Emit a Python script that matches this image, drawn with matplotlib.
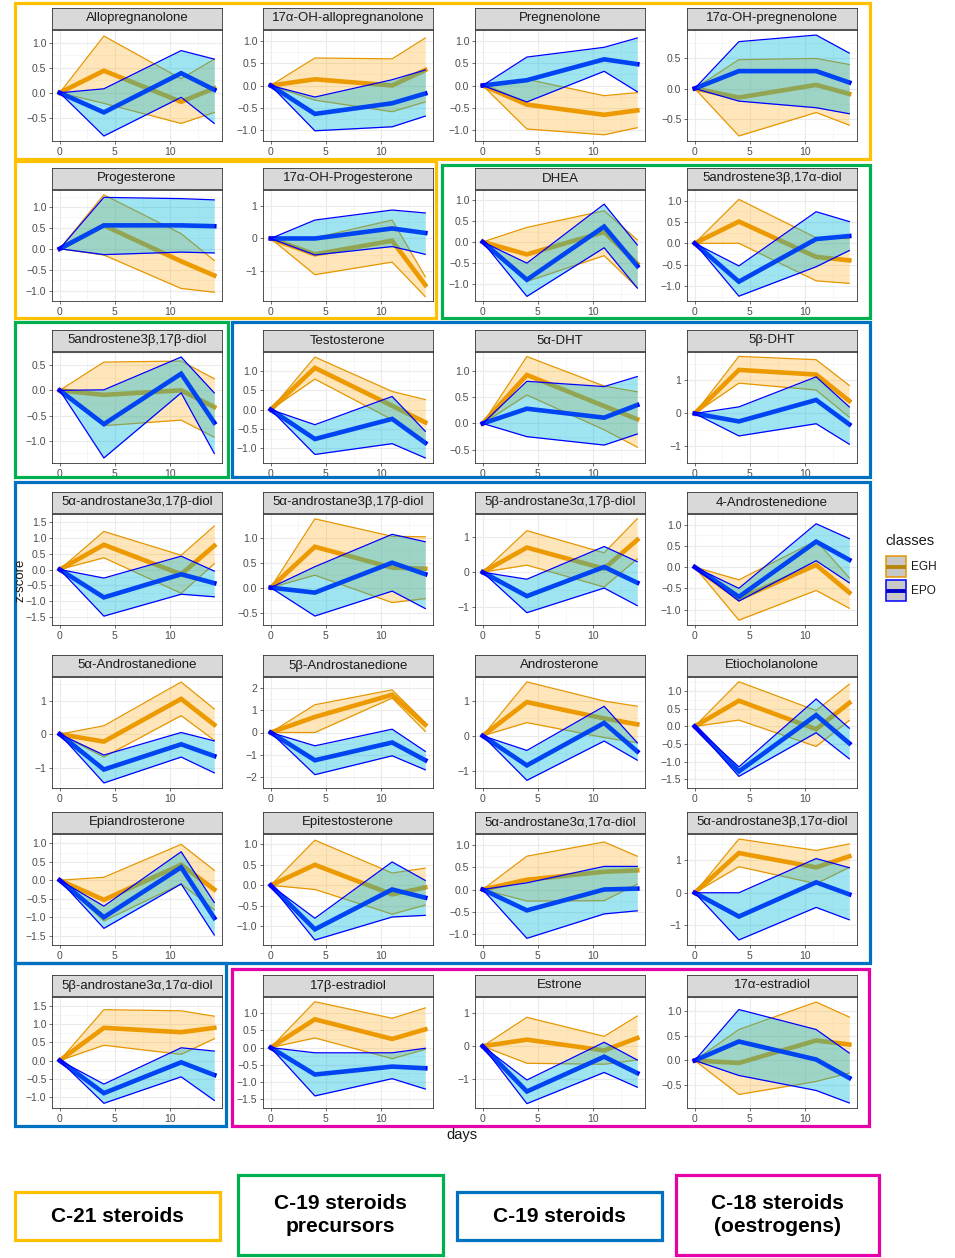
import numpy as np
import matplotlib.pyplot as plt
from matplotlib.patches import Rectangle
from matplotlib.lines import Line2D

plt.rcParams['font.family'] = ['Liberation Sans', 'DejaVu Sans']

W, H = 955, 1258

# =====================================================
# DATA  (z-score at days 4, 11, 14; day 0 is always 0)
# =====================================================
days = [0, 4, 11, 14]

steroids = [
    "Allopregnanolone", "17\u03b1-OH-allopregnanolone", "Pregnenolone", "17\u03b1-OH-pregnenolone",
    "Progesterone", "17\u03b1-OH-Progesterone", "DHEA", "5androstene3\u03b2,17\u03b1-diol",
    "5androstene3\u03b2,17\u03b2-diol", "Testosterone", "5\u03b1-DHT", "5\u03b2-DHT",
    "5\u03b1-androstane3\u03b1,17\u03b2-diol", "5\u03b1-androstane3\u03b2,17\u03b2-diol",
    "5\u03b2-androstane3\u03b1,17\u03b2-diol", "4-Androstenedione",
    "5\u03b1-Androstanedione", "5\u03b2-Androstanedione", "Androsterone", "Etiocholanolone",
    "Epiandrosterone", "Epitestosterone", "5\u03b1-androstane3\u03b1,17\u03b1-diol",
    "5\u03b1-androstane3\u03b2,17\u03b1-diol",
    "5\u03b2-androstane3\u03b1,17\u03b1-diol", "17\u03b2-estradiol", "Estrone", "17\u03b1-estradiol",
]

egh_mean = [
    [0.44, -0.18, 0.09], [0.14, 0.00, 0.35], [-0.43, -0.66, -0.56], [-0.15, 0.06, -0.09],
    [0.56, -0.30, -0.64], [-0.49, -0.07, -1.44], [-0.30, 0.24, -0.52], [0.51, -0.32, -0.40],
    [-0.09, 0.00, -0.33], [1.08, 0.10, -0.33], [0.92, 0.33, 0.08], [1.32, 1.18, 0.38],
    [0.78, -0.15, 0.75], [0.82, 0.40, 0.38], [0.70, 0.10, 0.92], [-0.75, 0.05, -0.60],
    [-0.22, 1.05, 0.28], [0.70, 1.70, 0.35], [0.97, 0.50, 0.33], [0.73, -0.08, 0.67],
    [-0.53, 0.42, -0.25], [0.50, -0.22, -0.05], [0.22, 0.40, 0.43], [1.22, 0.78, 1.12],
    [0.90, 0.78, 0.90], [0.82, 0.25, 0.53], [0.20, -0.13, 0.25], [-0.05, 0.40, 0.32],
]
egh_low = [
    [-0.21, -0.61, -0.39], [-0.33, -0.59, -0.37], [-0.98, -1.11, -0.95], [-0.79, -0.40, -0.61],
    [-0.15, -0.95, -1.04], [-1.12, -0.73, -1.80], [-0.95, -0.33, -1.10], [0.00, -0.88, -0.94],
    [-0.70, -0.59, -0.93], [0.79, -0.26, -0.90], [0.54, -0.12, -0.45], [0.92, 0.71, -0.11],
    [0.37, -0.75, 0.18], [0.25, -0.30, -0.22], [0.20, -0.42, 0.38], [-1.25, -0.55, -0.97],
    [-0.68, 0.55, -0.18], [0.00, 1.55, 0.05], [0.38, -0.05, -0.20], [0.18, -0.57, 0.17],
    [-1.10, -0.10, -0.80], [-0.10, -0.70, -0.48], [-0.26, -0.25, 0.12], [0.80, 0.28, 0.78],
    [0.42, 0.17, 0.60], [0.28, -0.32, -0.05], [-0.52, -0.55, -0.42], [-0.68, -0.42, -0.25],
]
egh_high = [
    [1.13, 0.28, 0.67], [0.62, 0.60, 1.07], [0.14, -0.23, -0.16], [0.48, 0.50, 0.40],
    [1.29, 0.36, -0.28], [0.02, 0.57, -1.18], [0.35, 0.75, 0.05], [1.03, 0.13, 0.11],
    [0.56, 0.58, 0.23], [1.36, 0.47, 0.26], [1.27, 0.71, 0.60], [1.73, 1.63, 0.85],
    [1.20, 0.45, 1.37], [1.38, 1.03, 1.02], [1.18, 0.55, 1.52], [-0.30, 0.62, -0.25],
    [0.25, 1.55, 0.75], [1.25, 1.92, 0.45], [1.55, 1.00, 0.85], [1.27, 0.45, 1.20],
    [0.08, 0.97, 0.27], [1.10, 0.30, 0.42], [0.75, 1.07, 0.75], [1.65, 1.30, 1.50],
    [1.40, 1.37, 1.22], [1.33, 0.85, 1.15], [0.88, 0.30, 0.92], [0.62, 1.17, 0.87],
]
epo_mean = [
    [-0.39, 0.39, 0.06], [-0.64, -0.40, -0.18], [0.12, 0.59, 0.48], [0.29, 0.29, 0.10],
    [0.56, 0.56, 0.54], [0.00, 0.31, 0.17], [-0.91, 0.37, -0.58], [-0.90, 0.10, 0.17],
    [-0.67, 0.33, -0.64], [-0.76, -0.24, -0.86], [0.28, 0.11, 0.35], [-0.24, 0.41, -0.33],
    [-0.88, -0.15, -0.43], [-0.10, 0.50, 0.27], [-0.68, 0.15, -0.30], [-0.70, 0.60, 0.17],
    [-1.05, -0.30, -0.65], [-1.25, -0.45, -1.25], [-0.85, 0.37, -0.45], [-1.28, 0.32, -0.48],
    [-1.00, 0.35, -1.02], [-1.07, -0.10, -0.30], [-0.47, 0.00, 0.02], [-0.73, 0.32, -0.05],
    [-0.90, -0.05, -0.40], [-0.78, -0.55, -0.60], [-1.38, -0.32, -0.82], [0.38, 0.02, -0.35],
]
epo_low = [
    [-0.86, -0.09, -0.61], [-1.02, -0.93, -0.69], [-0.37, 0.32, -0.14], [-0.21, -0.32, -0.42],
    [-0.14, -0.08, -0.10], [-0.51, -0.25, -0.49], [-1.31, -0.14, -1.11], [-1.24, -0.55, -0.17],
    [-1.34, -0.05, -1.25], [-1.16, -0.88, -1.25], [-0.25, -0.41, -0.20], [-0.68, -0.31, -0.93],
    [-1.47, -0.78, -0.86], [-0.57, -0.07, -0.42], [-1.15, -0.45, -0.95], [-0.80, 0.15, -0.37],
    [-1.45, -0.68, -1.15], [-1.90, -1.05, -1.68], [-1.28, -0.15, -0.70], [-1.42, -0.18, -0.92],
    [-1.30, -0.10, -1.48], [-1.33, -0.77, -0.73], [-1.10, -0.55, -0.48], [-1.45, -0.45, -0.83],
    [-1.18, -0.45, -1.10], [-1.40, -0.90, -1.20], [-1.75, -0.80, -1.25], [-0.30, -0.60, -0.85],
]
epo_high = [
    [0.08, 0.84, 0.67], [-0.26, 0.13, 0.35], [0.64, 0.86, 1.07], [0.78, 0.89, 0.59],
    [1.23, 1.20, 1.17], [0.57, 0.88, 0.79], [-0.51, 0.91, -0.07], [-0.53, 0.74, 0.51],
    [0.01, 0.66, -0.05], [-0.39, 0.34, -0.56], [0.80, 0.70, 0.89], [0.20, 1.11, 0.20],
    [-0.27, 0.42, -0.05], [0.42, 1.07, 0.92], [-0.20, 0.73, 0.30], [-0.50, 1.02, 0.67],
    [-0.62, 0.05, -0.20], [-0.60, 0.15, -0.85], [-0.42, 0.85, -0.20], [-1.15, 0.78, -0.05],
    [-0.70, 0.77, -0.60], [-0.80, 0.57, 0.12], [0.15, 0.52, 0.52], [0.00, 1.05, 0.77],
    [-0.65, 0.35, 0.26], [-0.15, -0.15, -0.02], [-1.03, 0.12, -0.42], [1.02, 0.62, 0.15],
]

tick_step = [0.5, 0.5, 0.5, 0.5, 0.5, 1, 0.5, 0.5, 0.5, 0.5, 0.5, 1, 0.5, 0.5,
             1, 0.5, 1, 1, 1, 0.5, 0.5, 0.5, 0.5, 1, 0.5, 0.5, 1, 0.5]

classes = ["EGH", "EPO"]

# =====================================================
# STYLE / LAYOUT (pixels)
# =====================================================
egh_line = '#E69600'
egh_fill = '#FFA500'
epo_line = '#0000FF'
epo_fill = '#00B8DC'

col_px = [(52, 222), (263, 433), (475, 645), (687, 857)]
strip_top = [8, 168, 330, 492, 655, 812, 975]
narrow = ['Liberation Sans Narrow', 'Liberation Sans', 'DejaVu Sans']


def px_box(x0, y0, x1, y1):
    return [x0 / W, 1 - y1 / H, (x1 - x0) / W, (y1 - y0) / H]


def with_zero(v):
    return [0.0] + list(v)


def fmt(v, step):
    s = f"{v:.0f}" if step >= 1 else f"{v:.1f}"
    if s.startswith('-'):
        s = '\u2212' + s[1:]
    if s in ('\u22120', '\u22120.0'):
        s = s[1:]
    return s


fig = plt.figure(figsize=(W / 100, H / 100), dpi=100)

for i, name in enumerate(steroids):
    r, c = divmod(i, 4)
    x0, x1 = col_px[c]
    top = strip_top[r] + 22
    ax = fig.add_axes(px_box(x0, top, x1, top + 111))

    em, el, eh = with_zero(egh_mean[i]), with_zero(egh_low[i]), with_zero(egh_high[i])
    pm, pl, ph = with_zero(epo_mean[i]), with_zero(epo_low[i]), with_zero(epo_high[i])

    # EGH group
    ax.plot(days, em, color=egh_line, lw=3.3, solid_joinstyle='miter', zorder=2)
    ax.fill_between(days, el, eh, color=egh_fill, alpha=0.27, lw=0, zorder=2)
    ax.plot(days, el, color=egh_line, lw=0.9, zorder=2)
    ax.plot(days, eh, color=egh_line, lw=0.9, zorder=2)
    # EPO group
    ax.plot(days, pm, color=epo_line, lw=3.3, solid_joinstyle='miter', zorder=3)
    ax.fill_between(days, pl, ph, color=epo_fill, alpha=0.38, lw=0, zorder=3)
    ax.plot(days, pl, color=epo_line, lw=0.9, zorder=3)
    ax.plot(days, ph, color=epo_line, lw=0.9, zorder=3)

    lo = min(min(el), min(pl))
    hi = max(max(eh), max(ph))
    pad = (hi - lo) * 0.05
    ax.set_ylim(lo - pad, hi + pad)
    ax.set_xlim(-0.7, 14.7)

    step = tick_step[i]
    yt = np.arange(np.ceil((lo - pad) / step) * step, hi + pad + 1e-9, step)
    ax.set_yticks(yt)
    ax.set_yticklabels([fmt(v, step) for v in yt])
    ax.set_yticks(np.append(yt - step / 2, yt[-1] + step / 2), minor=True)
    ax.set_xticks([0, 5, 10])
    ax.set_xticks([2.5, 7.5, 12.5], minor=True)

    ax.grid(which='major', color='#EBEBEB', lw=0.8, zorder=0)
    ax.grid(which='minor', color='#F3F3F3', lw=0.5, zorder=0)
    ax.set_axisbelow(True)
    ax.tick_params(which='major', length=2.5, width=0.5, color='#333333',
                   labelcolor='#4D4D4D', labelsize=7.5, pad=1.5)
    ax.tick_params(which='minor', length=0)
    for sp in ax.spines.values():
        sp.set_color('#333333')
        sp.set_linewidth(0.6)

    sax = fig.add_axes(px_box(x0, strip_top[r], x1, strip_top[r] + 21))
    sax.set_facecolor('#D9D9D9')
    sax.set_xticks([])
    sax.set_yticks([])
    for sp in sax.spines.values():
        sp.set_color('#333333')
        sp.set_linewidth(0.6)
    sax.text(0.5, 0.5, name, ha='center', va='center', fontsize=9.5, color='#1A1A1A',
             family=narrow, transform=sax.transAxes)

# axis titles
fig.text(20 / W, 1 - 580 / H, "z-score", rotation=90, ha='center', va='center',
         fontsize=9.5, color='#1A1A1A')
fig.text(462 / W, 1 - 1135 / H, "days", ha='center', va='center', fontsize=10.5,
         color='#1A1A1A')

# legend
fig.text(885 / W, 1 - 541 / H, "classes", ha='left', va='center', fontsize=10.5, color='#1A1A1A')
for k, (lab, lc, dark) in enumerate(zip(classes, [egh_line, epo_line], ['#B8860B', '#0000C8'])):
    ky = 556 + k * 24
    fig.add_artist(Rectangle((886 / W, 1 - (ky + 21) / H), 20 / W, 21 / H,
                             transform=fig.transFigure, facecolor='#C8C8C8',
                             edgecolor=lc, lw=1.1))
    fig.add_artist(Line2D([888 / W, 904 / W], [1 - (ky + 10.5) / H] * 2,
                          transform=fig.transFigure, color=dark, lw=2.8))
    fig.text(911 / W, 1 - (ky + 11) / H, lab, ha='left', va='center', fontsize=8.5,
             color='#1A1A1A')

# group frames
frame_colors = {'C21': '#FFC000', 'C19p': '#00B050', 'C19': '#0070C0', 'C18': '#E600A8'}
frames = [
    ('C21', 15, 3, 870, 159), ('C21', 15, 161, 436, 318),
    ('C19p', 442, 165, 870, 318), ('C19p', 15, 322, 228, 477),
    ('C19', 232, 322, 870, 477), ('C19', 15, 482, 870, 963), ('C19', 15, 963, 226, 1126),
    ('C18', 232, 969, 869, 1126),
]
for key, fx0, fy0, fx1, fy1 in frames:
    fig.add_artist(Rectangle((fx0 / W, 1 - fy1 / H), (fx1 - fx0) / W, (fy1 - fy0) / H,
                             transform=fig.transFigure, fill=False,
                             edgecolor=frame_colors[key], lw=2.3))

# bottom key boxes
group_labels = ["C-21 steroids", "C-19 steroids\nprecursors", "C-19 steroids",
                "C-18 steroids\n(oestrogens)"]
boxes = [('C21', 15, 1192, 220, 1240), ('C19p', 238, 1175, 443, 1255),
         ('C19', 457, 1192, 662, 1240), ('C18', 676, 1175, 879, 1255)]
for lab, (key, bx0, by0, bx1, by1) in zip(group_labels, boxes):
    fig.add_artist(Rectangle((bx0 / W, 1 - by1 / H), (bx1 - bx0) / W, (by1 - by0) / H,
                             transform=fig.transFigure, fill=False,
                             edgecolor=frame_colors[key], lw=2.3))
    fig.text((bx0 + bx1) / 2 / W, 1 - (by0 + by1) / 2 / H, lab, ha='center', va='center',
             fontsize=15, fontweight='bold', linespacing=1.25, family=narrow)

fig.savefig('out.png', dpi=100)
